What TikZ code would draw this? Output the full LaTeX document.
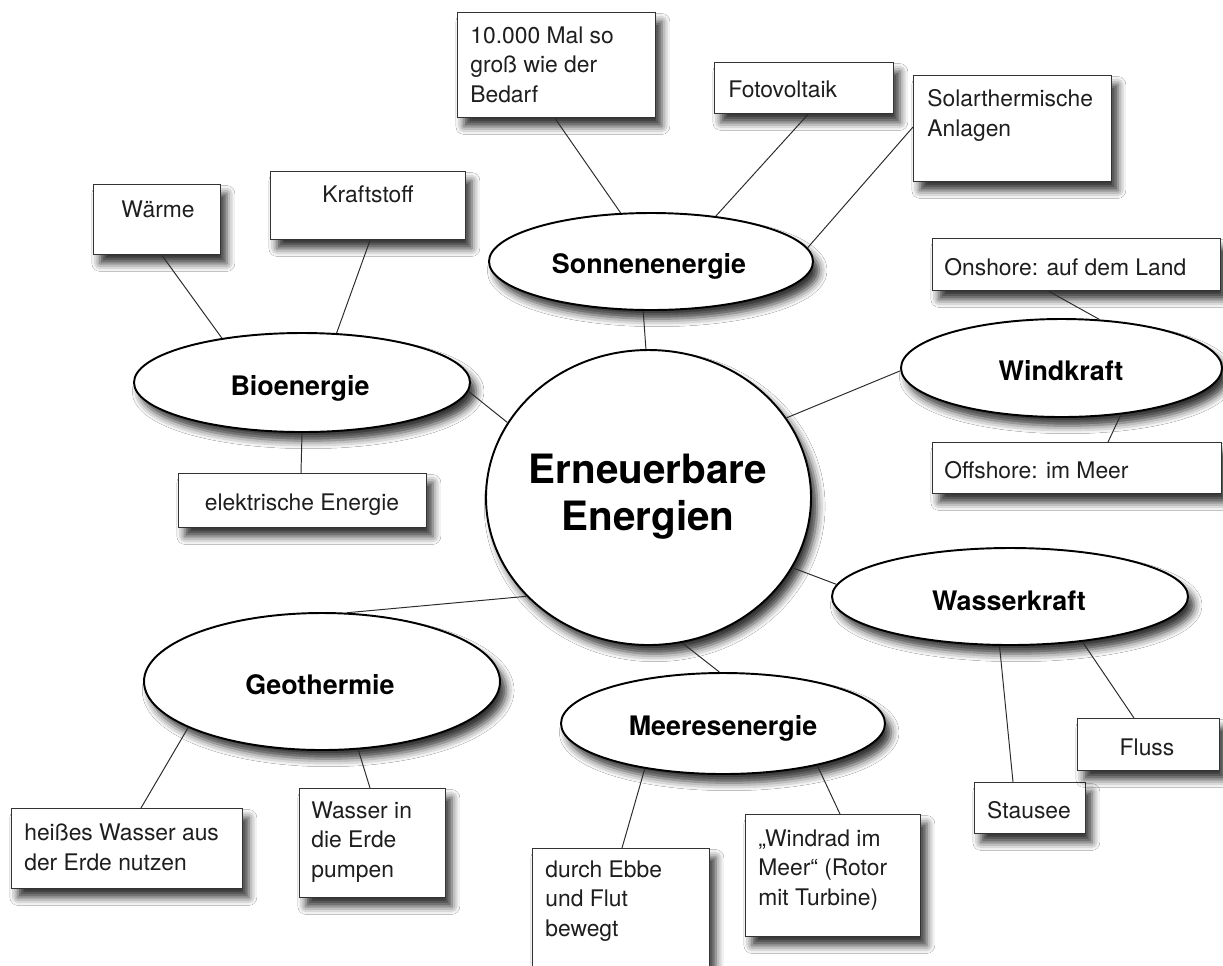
\documentclass[tikz,border=0pt]{standalone}
\usepackage{fontspec}
\setmainfont{TeX Gyre Heros}
\usetikzlibrary{shapes.geometric,shadows.blur}
\newlength\PX \setlength\PX{0.02cm}
\definecolor{boxc}{HTML}{333333}
\definecolor{linec}{HTML}{2A2A2A}
\definecolor{txtc}{HTML}{1E1E1E}
\tikzset{
  shad/.style={blur shadow={shadow xshift=3.5pt, shadow yshift=-5pt, shadow blur radius=4.5pt, shadow opacity=80}},
  box/.style={draw=boxc, line width=0.8pt, fill=white, rectangle, inner sep=0pt, anchor=north west, shad},
  ell/.style={draw=black, line width=1.1pt, fill=white, ellipse, inner sep=0pt, shad},
  lbl/.style={font=\fontsize{13}{16.7}\selectfont, inner sep=0pt, anchor=base west, align=left, text=txtc},
  clbl/.style={font=\fontsize{13}{16.7}\selectfont, inner sep=0pt, anchor=base, text=txtc},
  bl/.style={font=\bfseries\fontsize{15.3}{19}\selectfont, inner sep=0pt, anchor=base},
  link/.style={draw=linec, line width=0.55pt}
}
\begin{document}
\begin{tikzpicture}[x=0.02cm,y=-0.02cm]
\useasboundingbox[fill=white] (0,0) rectangle (1223,965);

% ---- ellipses ----
\node[ell, minimum width=325\PX, minimum height=295\PX] (ee) at (648.5,497.5) {};
\node[ell, minimum width=324\PX, minimum height=97\PX] (sonne) at (651,261.5) {};
\node[ell, minimum width=336\PX, minimum height=99\PX] (bio) at (302,382.5) {};
\node[ell, minimum width=321\PX, minimum height=98\PX] (wind) at (1061.5,368) {};
\node[ell, minimum width=356\PX, minimum height=97\PX] (wasser) at (1010,596.5) {};
\node[ell, minimum width=356\PX, minimum height=137\PX] (geo) at (322,681.5) {};
\node[ell, minimum width=324\PX, minimum height=101\PX] (meer) at (723,723.5) {};

% ---- boxes ----
\node[box, minimum width=198\PX, minimum height=105\PX] (b10) at (457,12) {};
\node[box, minimum width=179\PX, minimum height=51\PX] (bfoto) at (714,62) {};
\node[box, minimum width=198\PX, minimum height=106\PX] (bsolar) at (913,75) {};
\node[box, minimum width=127\PX, minimum height=70\PX] (bwaerme) at (93,184) {};
\node[box, minimum width=195\PX, minimum height=68\PX] (bkraft) at (270,171) {};
\node[box, minimum width=248\PX, minimum height=54\PX] (belek) at (178,473) {};
\node[box, minimum width=288\PX, minimum height=52\PX] (bon) at (932,238) {};
\node[box, minimum width=289\PX, minimum height=51\PX] (boff) at (932,442) {};
\node[box, minimum width=231\PX, minimum height=80\PX] (bheiss) at (11,808) {};
\node[box, minimum width=146\PX, minimum height=109\PX] (bpump) at (299,788) {};
\node[box, minimum width=177\PX, minimum height=140\PX] (bebbe) at (532,848) {};
\node[box, minimum width=175\PX, minimum height=122\PX] (brad) at (745,814) {};
\node[box, minimum width=111\PX, minimum height=51\PX] (bstau) at (974,782) {};
\node[box, minimum width=142\PX, minimum height=52\PX] (bfluss) at (1077,718) {};

% ---- connectors ----
\draw[link] (ee.152.4) -- (bio.-3.7);
\draw[link] (ee.91.7) -- (sonne.261.8);
\draw[link] (ee.30.8) -- (wind.181.4);
\draw[link] (ee.-26.6) -- (wasser.176.3);
\draw[link] (ee.-77.7) -- (meer.94.5);
\draw[link] (ee.219.9) -- (geo.70);

\draw[link] ([xshift=98\PX]b10.south west) -- (sonne.122.6);
\draw[link] ([xshift=94\PX]bfoto.south west) -- (sonne.35.4);
\draw[link] ([yshift=-52\PX]bsolar.north west) -- (sonne.5.2);

\draw[link] ([xshift=69\PX]bwaerme.south west) -- (bio.151.8);
\draw[link] ([xshift=100\PX]bkraft.south west) -- (bio.55.5);
\draw[link] (bio.270) -- ([xshift=123\PX]belek.north west);

\draw[link] ([xshift=117\PX]bon.south west) -- (wind.52);
\draw[link] (wind.-38.1) -- ([xshift=176\PX]boff.north west);

\draw[link] (wasser.258) -- ([xshift=39\PX]bstau.north west);
\draw[link] (wasser.-32.9) -- ([xshift=57\PX]bfluss.north west);

\draw[link] (geo.199.9) -- ([xshift=130\PX]bheiss.north west);
\draw[link] (geo.-62.9) -- ([xshift=71\PX]bpump.north west);

\draw[link] (meer.210.5) -- ([xshift=90\PX]bebbe.north west);
\draw[link] (meer.-24.2) -- ([xshift=95\PX]brad.north west);

% ---- ellipse labels ----
\node[font=\bfseries\fontsize{23}{26.6}\selectfont, inner sep=0pt, align=center, anchor=base] (tee) at (648,530) {Erneuerbare\\Energien};
\node[bl] (tsonne) at (649,273) {Sonnenenergie};
\node[bl] (tbio) at (300,395) {Bioenergie};
\node[bl] (twind) at (1061,380) {Windkraft};
\node[bl] (twasser) at (1009,610) {Wasserkraft};
\node[bl] (tgeo) at (320,694) {Geothermie};
\node[bl] (tmeer) at (723,735) {Meeresenergie};

% ---- box labels (base = last line) ----
\node[lbl] (t10) at (470,102) {10.000 Mal so\\groß wie der\\Bedarf};
\node[lbl] (tfoto) at (728,97) {Fotovoltaik};
\node[lbl] (tsolar) at (927,136) {Solarthermische\\Anlagen};
\node[clbl] (twaerme) at (158,217) {Wärme};
\node[clbl] (tkraft) at (368,202) {Kraftstoff};
\node[clbl] (telek) at (302,510) {elektrische Energie};
\node[lbl] (ton) at (944,275) {Onshore: auf dem Land};
\node[lbl] (toff) at (944,478) {Offshore: im Meer};
\node[lbl] (theiss) at (24,870) {heißes Wasser aus\\der Erde nutzen};
\node[lbl] (tpump) at (311,877) {Wasser in\\die Erde\\pumpen};
\node[lbl] (tebbe) at (545,936) {durch Ebbe\\und Flut\\bewegt};
\node[lbl] (trad) at (758,905) {„Windrad im\\Meer“ (Rotor\\mit Turbine)};
\node[clbl] (tstau) at (1029,818) {Stausee};
\node[clbl] (tfluss) at (1147,755) {Fluss};
\end{tikzpicture}
\end{document}
